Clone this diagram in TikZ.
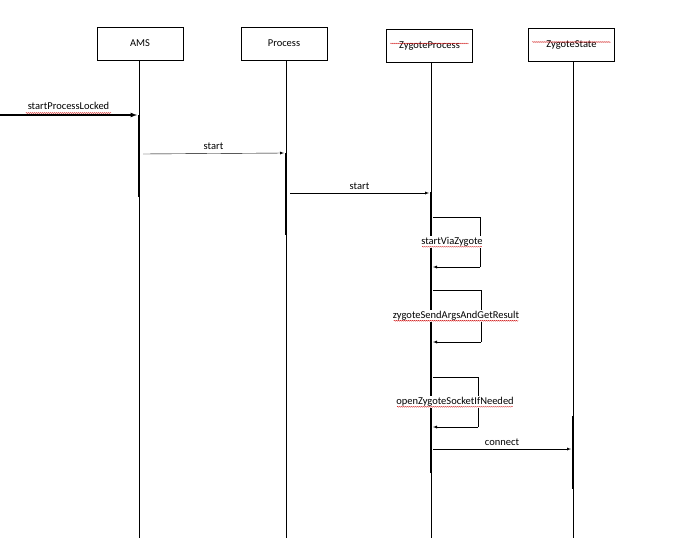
\documentclass[tikz,border=0pt]{standalone}
\usepackage{fontspec}
\setmainfont{Carlito}
\usetikzlibrary{decorations.pathmorphing}
\begin{document}
\begin{tikzpicture}[x=1pt,y=-1pt,font=\fontsize{10.5}{12}\selectfont,
  box/.style={draw,thin,minimum width=86pt,minimum height=33pt,inner sep=0pt},
  life/.style={draw,thin},
  act/.style={line width=2.2pt},
  msg/.style={draw,thin,-latex},
  lbl/.style={fill=white,inner sep=1pt},
  sq/.style={red!80!black,line width=0.3pt,decorate,decoration={snake,amplitude=0.5pt,segment length=2pt}}]
\useasboundingbox (0,0) rectangle (692,538);
\node[box] (ams) at (140,43.5) {AMS};
\node[box] (proc) at (284,43.5) {Process};
\node[box] (zp) at (429.5,46) {ZygoteProcess};
\node[box] (zs) at (571.5,44.5) {ZygoteState};
\coordinate (amsE) at (139,538);
\coordinate (procE) at (286,538);
\coordinate (zpE) at (431,538);
\coordinate (zsE) at (573,538);
\draw[life] (139,60) -- (amsE);
\draw[life] (286,60) -- (procE);
\draw[life] (431,63) -- (zpE);
\draw[life] (573,61) -- (zsE);
% activations
\draw[act] (139,115) -- (139,197);
\draw[act] (286,153) -- (286,235);
\draw[act] (431,192) -- (431,473);
\draw[act] (573,416) -- (573,489);
% messages
\coordinate (src) at (0,115);
\coordinate (a1) at (137,115);
\draw[msg,line width=1.2pt] (src) -- (a1) node[pos=0.5,above=1pt] (l1) {startProcessLocked};
\coordinate (b0) at (143,154); \coordinate (b1) at (284,153);
\draw[msg] (b0) -- (b1) node[midway,above=0pt] (l2) {start};
\coordinate (c0) at (290,193); \coordinate (c1) at (429,193);
\draw[msg] (c0) -- (c1) node[midway,above=0pt] (l3) {start};
% self loops
\coordinate (s1a) at (433,217); \coordinate (s1b) at (480,217);
\coordinate (s1c) at (480,267); \coordinate (s1d) at (433,267);
\draw[thin] (s1a) -- (s1b) -- (s1c);
\draw[msg] (s1c) -- (s1d);
\node[lbl] (t1) at (452,242) {startViaZygote};
\coordinate (s2a) at (433,290); \coordinate (s2b) at (481,290);
\coordinate (s2c) at (481,342); \coordinate (s2d) at (433,342);
\draw[thin] (s2a) -- (s2b) -- (s2c);
\draw[msg] (s2c) -- (s2d);
\node[lbl] (t2) at (456,316) {zygoteSendArgsAndGetResult};
\coordinate (s3a) at (433,377); \coordinate (s3b) at (478,377);
\coordinate (s3c) at (478,427); \coordinate (s3d) at (433,427);
\draw[thin] (s3a) -- (s3b) -- (s3c);
\draw[msg] (s3c) -- (s3d);
\node[lbl] (t3) at (455,402) {openZygoteSocketIfNeeded};
\coordinate (d0) at (433,449); \coordinate (d1) at (571,449);
\draw[msg] (d0) -- (d1) node[pos=0.5,above=0pt] (l4) {connect};
% spell-check squiggles
\draw[sq] (l1.south west)++(2,-1) -- ([xshift=-2pt,yshift=1pt]l1.south east);
\draw[sq] ([xshift=2pt,yshift=1pt]t1.south west) -- ([xshift=-2pt,yshift=1pt]t1.south east);
\draw[sq] ([xshift=2pt,yshift=1pt]t2.south west) -- ([xshift=-2pt,yshift=1pt]t2.south east);
\draw[sq] ([xshift=2pt,yshift=1pt]t3.south west) -- ([xshift=-2pt,yshift=1pt]t3.south east);
\draw[sq] ([xshift=4pt,yshift=5pt]zp.base west) -- ([xshift=-4pt,yshift=5pt]zp.base east);
\draw[sq] ([xshift=4pt,yshift=5pt]zs.base west) -- ([xshift=-4pt,yshift=5pt]zs.base east);
\end{tikzpicture}
\end{document}
